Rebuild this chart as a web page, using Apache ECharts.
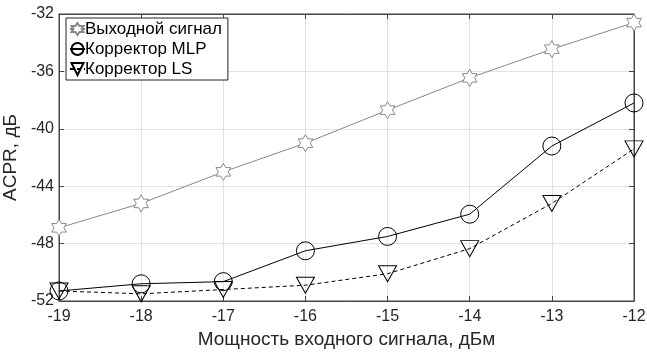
<!DOCTYPE html>
<html><head><meta charset="utf-8">
<script src="https://cdn.jsdelivr.net/npm/echarts@6/dist/echarts.min.js"></script>
<style>html,body{margin:0;padding:0;background:#fff}#c{width:647px;height:354px}</style>
</head><body><div id="c"></div>
<script>
var categories = [-19, -18, -17, -16, -15, -14, -13, -12];
var outputSignal = [-46.9, -45.2, -43.0, -41.0, -38.7, -36.45, -34.45, -32.6];
var correctorMLP = [-51.3, -50.8, -50.65, -48.5, -47.5, -45.95, -41.2, -38.2];
var correctorLS = [-51.3, -51.5, -51.2, -50.9, -50.1, -48.35, -45.2, -41.4];
var yTicks = [-52, -48, -44, -40, -36, -32];
var seriesNames = ['Выходной сигнал', 'Корректор MLP', 'Корректор LS'];

var star = 'path://M0,-100L28.87,-50L86.6,-50L57.7,0L86.6,50L28.87,50L0,100L-28.87,50L-86.6,50L-57.7,0L-86.6,-50L-28.87,-50Z';
var tri = 'path://M0,0L100,0L50,87Z';
function pairs(arr){ return categories.map(function(x,i){ return [x, arr[i]]; }); }
var font = 'Liberation Sans, Arial, sans-serif';
var axisCol = '#444';
var chart = echarts.init(document.getElementById('c'));
chart.setOption({
  animation: false,
  backgroundColor: '#fff',
  grid: {left: 59, right: 13, top: 14, bottom: 53, show: true, borderColor: axisCol, borderWidth: 1,
    containLabel: false, outerBoundsMode: 'none'},
  legend: {
    orient: 'vertical', left: 66, top: 18, padding: [1, 6, 1, 3], itemGap: 0,
    itemWidth: 15, itemHeight: 15,
    borderColor: '#222', borderWidth: 1, backgroundColor: '#fff',
    textStyle: {fontFamily: font, fontSize: 17, lineHeight: 20, color: '#000', padding: [0,0,0,-5]},
    data: seriesNames
  },
  xAxis: [{
    type: 'value', min: -19, max: -12, interval: 1,
    name: 'Мощность входного сигнала, дБм', nameLocation: 'middle', nameGap: 29,
    nameTextStyle: {fontFamily: font, fontSize: 19, color: '#262626'},
    axisLine: {lineStyle: {color: axisCol}},
    axisTick: {inside: true, length: 5, lineStyle: {color: axisCol}},
    axisLabel: {fontFamily: font, fontSize: 16, color: '#262626', margin: 8},
    splitLine: {show: true, lineStyle: {color: '#e2e2e2'}}
  }, {
    type: 'value', min: -19, max: -12, interval: 1, position: 'top',
    axisLine: {show: true, lineStyle: {color: axisCol}},
    axisTick: {show: true, inside: true, length: 5, lineStyle: {color: axisCol}},
    axisLabel: {show: false}, splitLine: {show: false}
  }],
  yAxis: [{
    type: 'value', min: -52, max: -32, interval: 4,
    name: 'ACPR, дБ', nameLocation: 'middle', nameGap: 31, nameRotate: 90,
    nameTextStyle: {fontFamily: font, fontSize: 19, color: '#262626'},
    axisLine: {show: true, lineStyle: {color: axisCol}},
    axisTick: {show: true, inside: true, length: 5, lineStyle: {color: axisCol}},
    axisLabel: {fontFamily: font, fontSize: 16, color: '#262626', margin: 5,
      formatter: function(v){ return yTicks.indexOf(v) >= 0 ? String(v) : ''; }},
    splitLine: {show: true, lineStyle: {color: '#e2e2e2'}}
  }, {
    type: 'value', min: -52, max: -32, interval: 4, position: 'right',
    axisLine: {show: true, lineStyle: {color: axisCol}},
    axisTick: {show: true, inside: true, length: 5, lineStyle: {color: axisCol}},
    axisLabel: {show: false}, splitLine: {show: false}
  }],
  series: [{
    name: seriesNames[0], type: 'line', data: pairs(outputSignal),
    symbol: star, symbolSize: 17, symbolKeepAspect: true, showAllSymbol: true,
    lineStyle: {color: '#888', width: 1},
    itemStyle: {color: '#fff', borderColor: '#888', borderWidth: 1},
    z: 3
  }, {
    name: seriesNames[1], type: 'line', data: pairs(correctorMLP),
    symbol: 'circle', symbolSize: 18, showAllSymbol: true,
    lineStyle: {color: '#000', width: 1},
    itemStyle: {color: 'rgba(255,255,255,0)', borderColor: '#000', borderWidth: 1},
    z: 4
  }, {
    name: seriesNames[2], type: 'line', data: pairs(correctorLS),
    symbol: tri, symbolSize: [18, 16], showAllSymbol: true,
    lineStyle: {color: '#000', width: 1, type: [4, 3]},
    itemStyle: {color: 'rgba(255,255,255,0)', borderColor: '#000', borderWidth: 1},
    z: 5
  }]
});
</script></body></html>
